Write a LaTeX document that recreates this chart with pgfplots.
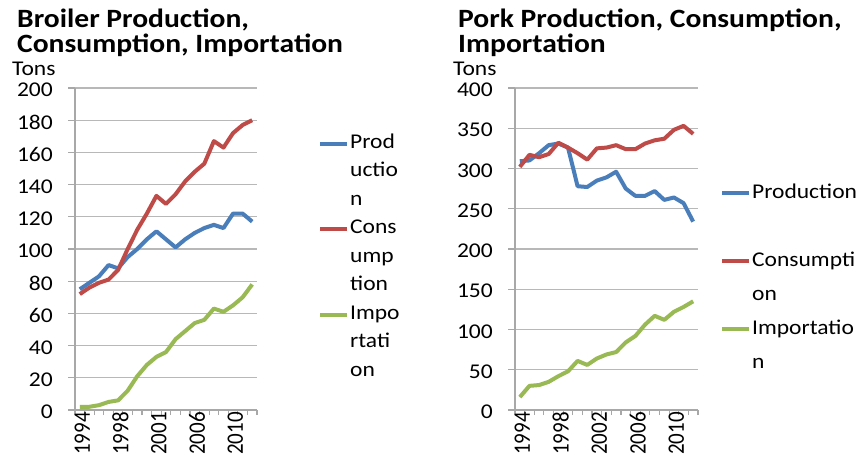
\documentclass[border=0pt]{standalone}
\usepackage{pgfplots}
\pgfplotsset{compat=1.18}
\usepackage{fontspec}
\setmainfont{Carlito}[FakeStretch=1.12]
\newfontfamily\plainfont{Carlito}
\definecolor{cblue}{HTML}{4A7EBB}
\definecolor{cred}{HTML}{BE4B48}
\definecolor{cgreen}{HTML}{98B954}
\definecolor{gridc}{HTML}{B8B8B8}
\definecolor{axisc}{HTML}{A8A8A8}
\newcommand\tf{\fontsize{21}{21}\selectfont}
\newcommand\xl[1]{\scalebox{1}[1.12]{\plainfont\fontsize{21}{21}\selectfont #1}}

\pgfplotstableread{
i prod cons imp
0 75 72 2
1 79 76 2
2 83 79 3
3 90 81 5
4 88 87 6
5 95 100 12
6 100 112 21
7 106 122 28
8 111 133 33
9 106 128 36
10 101 134 44
11 106 142 49
12 110 148 54
13 113 153 56
14 115 167 63
15 113 163 61
16 122 172 65
17 122 177 70
18 117 180 78
}\broiler

\pgfplotstableread{
i prod cons imp
0 309 302 16
1 310 317 30
2 319 314 31
3 329 318 35
4 331 332 42
5 326 326 48
6 278 319 61
7 277 311 56
8 285 325 64
9 289 326 69
10 296 329 72
11 275 324 84
12 266 324 92
13 266 331 106
14 272 335 117
15 261 337 112
16 264 348 122
17 257 353 128
18 234 343 135
}\pork

\pgfplotsset{
 mychart/.style={
  scale only axis, height=322pt,
  xmin=-0.5, xmax=18.5, ymin=0,
  axis x line*=bottom, axis y line*=left,
  tick pos=left,
  axis line style={axisc, line width=1.2pt},
  ymajorgrids, grid style={gridc, line width=1.2pt},
  xtick={0.25,4.25,8.25,12.25,16.25},
  major x tick style={draw=none},
  minor xtick={-0.5,0.5,...,18.5},
  minor x tick style={axisc, line width=1.2pt},
  tick align=outside,
  major tick length=7pt, minor tick length=5pt,
  ytick style={axisc, line width=1.2pt},
  /pgf/number format/assume math mode=true,
  tick label style={font=\tf},
  yticklabel={\tf\pgfmathprintnumber{\tick}},
  yticklabel style={font=\tf, inner sep=0pt, xshift=-15pt, yshift=-2pt},
  xticklabel style={font=\tf, rotate=90, anchor=east, inner sep=0pt, xshift=5pt},
  legend style={draw=none, fill=none, font=\tf, inner sep=0pt, row sep=0pt, column sep=1pt, anchor=north west},
  legend cell align=left,
  legend image code/.code={\draw[##1] (0pt,0pt) -- (27pt,0pt);},
  every axis plot/.append style={line width=4pt, line join=round, no marks},
 }
}

\begin{document}
\begin{tikzpicture}
\path[use as bounding box] (0,0) rectangle (860pt,475pt);

% titles and unit labels
\node[anchor=base west, inner sep=0pt, font=\bfseries\fontsize{26.4}{26.4}\selectfont] at (17pt,447.3pt) {Broiler Production,};
\node[anchor=base west, inner sep=0pt, font=\bfseries\fontsize{26.4}{26.4}\selectfont] at (17pt,422.7pt) {Consumption, Importation};
\node[anchor=base west, inner sep=0pt, font=\bfseries\fontsize{26.4}{26.4}\selectfont] at (458pt,447.3pt) {Pork Production, Consumption,};
\node[anchor=base west, inner sep=0pt, font=\bfseries\fontsize{26.4}{26.4}\selectfont] at (458pt,422pt) {Importation};
\node[anchor=base west, inner sep=0pt, font=\tf] at (12pt,399pt) {Tons};
\node[anchor=base west, inner sep=0pt, font=\tf] at (453pt,399pt) {Tons};

\begin{axis}[mychart, at={(75pt,65pt)}, anchor=south west, width=182pt,
  ymax=200, ytick={0,20,...,200},
  xticklabels={\xl{1994},\xl{1998},\xl{2001},\xl{2006},\xl{2010}},
  legend style={at={(axis description cs:1.335,0.872)}, nodes={inner sep=0pt, text height=19pt, text depth=9.5pt}}]
\addplot[cblue] table[x=i, y=prod] {\broiler}; \addlegendentry{Prod}
\addlegendimage{empty legend} \addlegendentry{uctio}
\addlegendimage{empty legend} \addlegendentry{n}
\addplot[cred] table[x=i, y=cons] {\broiler}; \addlegendentry{Cons}
\addlegendimage{empty legend} \addlegendentry{ump}
\addlegendimage{empty legend} \addlegendentry{tion}
\addplot[cgreen] table[x=i, y=imp] {\broiler}; \addlegendentry{Impo}
\addlegendimage{empty legend} \addlegendentry{rtati}
\addlegendimage{empty legend} \addlegendentry{on}
\end{axis}

\begin{axis}[mychart, at={(515pt,65pt)}, anchor=south west, width=183pt,
  ymax=400, ytick={0,50,...,400},
  xticklabels={\xl{1994},\xl{1998},\xl{2002},\xl{2006},\xl{2010}},
  legend style={at={(axis description cs:1.120,0.727)}, nodes={inner sep=0pt, text height=22pt, text depth=12pt}}]
\addplot[cblue] table[x=i, y=prod] {\pork}; \addlegendentry{Production}
\addlegendimage{empty legend} \addlegendentry{}
\addplot[cred] table[x=i, y=cons] {\pork}; \addlegendentry{Consumpti}
\addlegendimage{empty legend} \addlegendentry{on}
\addplot[cgreen] table[x=i, y=imp] {\pork}; \addlegendentry{Importatio}
\addlegendimage{empty legend} \addlegendentry{n}
\end{axis}
\end{tikzpicture}
\end{document}
